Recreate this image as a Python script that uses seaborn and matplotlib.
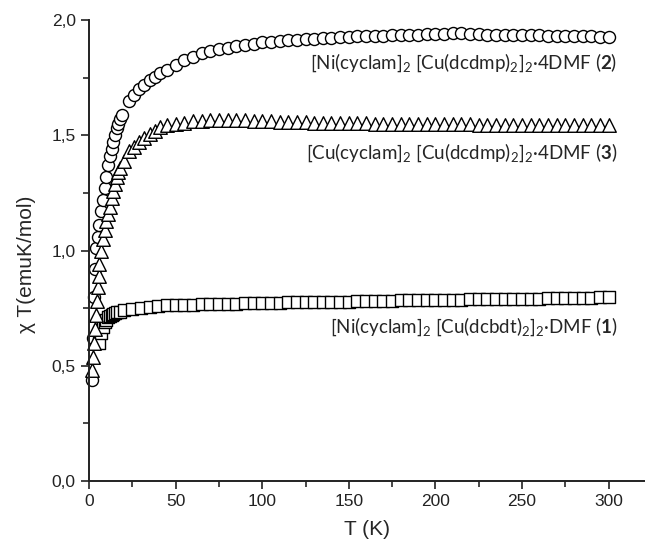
import matplotlib
matplotlib.use("Agg")
import matplotlib.pyplot as plt
from matplotlib.ticker import MultipleLocator, FuncFormatter
import numpy as np
import pandas as pd
import seaborn as sns

# compound (2): circles
t_2 = [2, 2.5, 3, 3.5, 4, 5, 6, 7, 8, 9, 10, 11, 12, 13, 14, 15, 16, 17, 18, 19,
       23, 26, 29, 32, 35, 38, 41, 45, 50, 55, 60, 65, 70, 75, 80, 85, 90, 95, 100,
       105, 110, 115, 120, 125, 130, 135, 140, 145, 150, 155, 160, 165, 170, 175,
       180, 185, 190, 195, 200, 205, 210, 215, 220, 225, 230, 235, 240, 245, 250,
       255, 260, 265, 270, 275, 280, 285, 290, 295, 300]
chi_2 = [0.44, 0.62, 0.80, 0.92, 1.01, 1.06, 1.11, 1.17, 1.22, 1.27, 1.32, 1.37, 1.41,
         1.44, 1.47, 1.50, 1.53, 1.55, 1.57, 1.59,
         1.65, 1.675, 1.70, 1.72, 1.74, 1.755, 1.77, 1.785, 1.805, 1.825, 1.84, 1.855,
         1.865, 1.873, 1.88, 1.887, 1.893, 1.898, 1.903, 1.906, 1.909, 1.912, 1.915,
         1.917, 1.92, 1.922, 1.924, 1.926, 1.928, 1.929, 1.93, 1.932, 1.933, 1.934,
         1.935, 1.936, 1.937, 1.938, 1.94, 1.94, 1.942, 1.945, 1.94, 1.938, 1.937,
         1.936, 1.937, 1.936, 1.935, 1.934, 1.934, 1.933, 1.932, 1.932, 1.931, 1.93,
         1.93, 1.928, 1.927]

# compound (1): squares
t_1 = [6, 7, 8, 9, 10, 11, 12, 13, 14, 15, 16, 18, 20, 25, 30, 35, 40, 45, 50, 55,
       60, 65, 70, 75, 80, 85, 90, 95, 100, 105, 110, 115, 120, 125, 130, 135, 140,
       145, 150, 155, 160, 165, 170, 175, 180, 185, 190, 195, 200, 205, 210, 215,
       220, 225, 230, 235, 240, 245, 250, 255, 260, 265, 270, 275, 280, 285, 290,
       295, 300]
chi_1 = [0.60, 0.64, 0.67, 0.69, 0.70, 0.71, 0.715, 0.72, 0.725, 0.73, 0.732, 0.735,
         0.74, 0.745, 0.75, 0.755, 0.76, 0.762, 0.764, 0.765, 0.765, 0.766, 0.766,
         0.767, 0.768, 0.77, 0.772, 0.772, 0.773, 0.773, 0.774, 0.775, 0.775, 0.776,
         0.776, 0.777, 0.777, 0.777, 0.778, 0.779, 0.78, 0.781, 0.782, 0.783, 0.784,
         0.784, 0.785, 0.785, 0.786, 0.786, 0.787, 0.787, 0.788, 0.788, 0.788, 0.789,
         0.789, 0.79, 0.79, 0.791, 0.791, 0.792, 0.793, 0.794, 0.795, 0.795, 0.796,
         0.797, 0.798]

# compound (3): triangles
t_3 = [2, 2.5, 3, 3.5, 4, 4.5, 5, 5.5, 6, 7, 8, 9, 10, 11, 12, 13, 14, 15, 16, 17,
       18, 20, 23, 26, 29, 32, 35, 38, 41, 45, 50, 55, 60, 65, 70, 75, 80, 85, 90,
       95, 100, 105, 110, 115, 120, 125, 130, 135, 140, 145, 150, 155, 160, 165,
       170, 175, 180, 185, 190, 195, 200, 205, 210, 215, 220, 225, 230, 235, 240,
       245, 250, 255, 260, 265, 270, 275, 280, 285, 290, 295, 300]
chi_3 = [0.48, 0.54, 0.60, 0.66, 0.72, 0.78, 0.84, 0.89, 0.94, 1.00, 1.05, 1.09, 1.13,
         1.16, 1.19, 1.23, 1.26, 1.29, 1.32, 1.34, 1.36, 1.39, 1.43, 1.45, 1.47, 1.49,
         1.505, 1.52, 1.535, 1.545, 1.55, 1.555, 1.56, 1.563, 1.566, 1.567, 1.567,
         1.566, 1.565, 1.563, 1.562, 1.56, 1.559, 1.558, 1.557, 1.556, 1.555, 1.555,
         1.554, 1.553, 1.553, 1.552, 1.552, 1.551, 1.551, 1.55, 1.55, 1.549, 1.549,
         1.548, 1.548, 1.548, 1.547, 1.547, 1.547, 1.546, 1.546, 1.546, 1.546, 1.546,
         1.545, 1.545, 1.545, 1.545, 1.545, 1.545, 1.545, 1.545, 1.545, 1.545, 1.545]

label_2 = r"[Ni(cyclam]$_2$ [Cu(dcdmp)$_2$]$_2$·4DMF ($\mathbf{2}$)"
label_3 = r"[Cu(cyclam]$_2$ [Cu(dcdmp)$_2$]$_2$·4DMF ($\mathbf{3}$)"
label_1 = r"[Ni(cyclam]$_2$ [Cu(dcbdt)$_2$]$_2$·DMF ($\mathbf{1}$)"

sns.set_style("ticks")
plt.rcParams["font.family"] = ["Liberation Sans", "DejaVu Sans"]
plt.rcParams["mathtext.fontset"] = "custom"
plt.rcParams["mathtext.rm"] = "Lato"
plt.rcParams["mathtext.bf"] = "Lato:bold"

fig = plt.figure(figsize=(6.45, 5.5), dpi=100)
ax = fig.add_axes([0.138, 0.1255, 0.862, 0.838])

kw = dict(color="white", edgecolor="black", linewidth=1.0, ax=ax, clip_on=False,
          legend=False)
sns.scatterplot(x=t_2, y=chi_2, marker="o", s=75, **kw)
sns.scatterplot(x=t_1, y=chi_1, marker="s", s=65, **kw)
sns.scatterplot(x=t_3, y=chi_3, marker="^", s=95, **kw)

txt = dict(ha="right", va="center", fontsize=13.5, family="Lato")
ax.text(305, 1.817, label_2, **txt)
ax.text(305, 1.423, label_3, **txt)
ax.text(305, 0.668, label_1, **txt)

ax.set_xlim(0, 321)
ax.set_ylim(0, 2.0)
ax.xaxis.set_major_locator(MultipleLocator(50))
ax.xaxis.set_minor_locator(MultipleLocator(25))
ax.yaxis.set_major_locator(MultipleLocator(0.5))
ax.yaxis.set_minor_locator(MultipleLocator(0.25))
ax.yaxis.set_major_formatter(FuncFormatter(lambda v, p: f"{v:.1f}".replace(".", ",")))
ax.tick_params(which="major", direction="out", length=6, width=1.2, labelsize=12.5,
               colors="#222222")
ax.tick_params(which="minor", direction="out", length=4, width=1.2)
for s in ["left", "bottom"]:
    ax.spines[s].set_linewidth(1.4)
    ax.spines[s].set_color("#222222")
sns.despine(ax=ax)

ax.set_xlabel("T (K)", fontsize=15, labelpad=8)
ax.set_ylabel("χ T(emuK/mol)", fontsize=15)
ax.yaxis.set_label_coords(-0.095, 0.47)

fig.savefig("out.png", dpi=100)
